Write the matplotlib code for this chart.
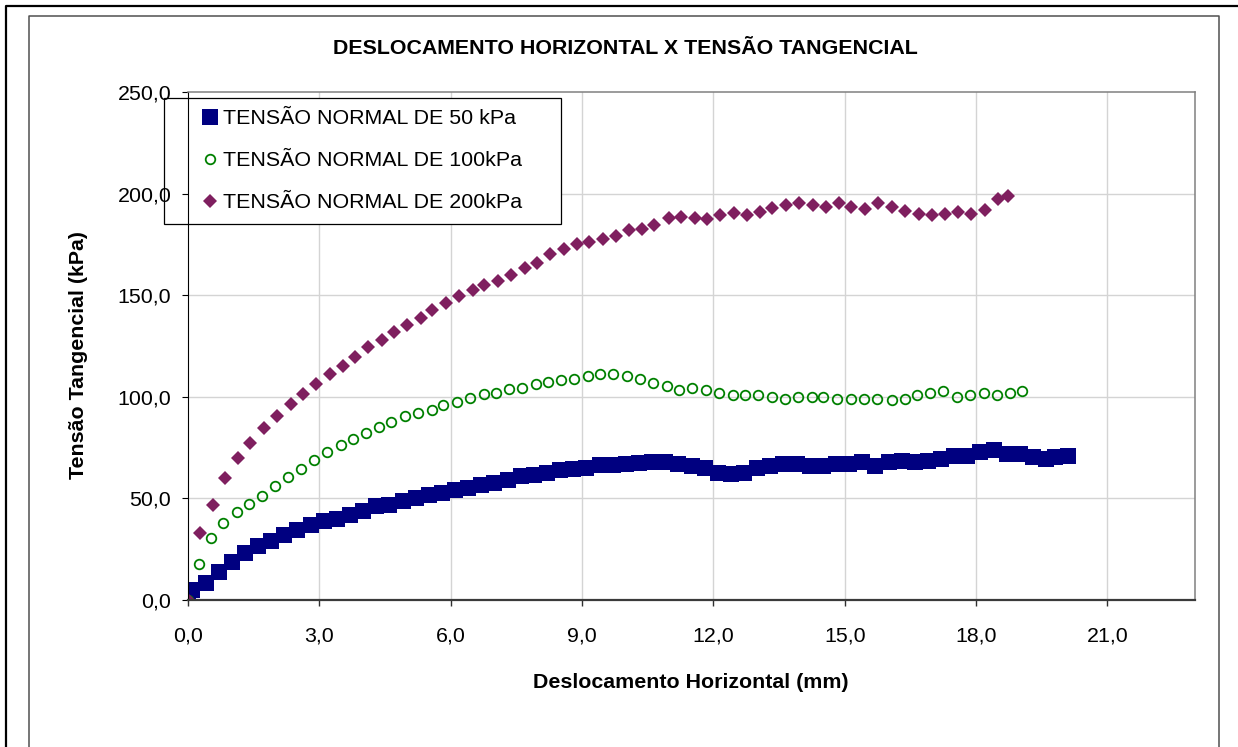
import matplotlib
matplotlib.use("Agg")
import matplotlib.pyplot as plt
from matplotlib.lines import Line2D
from matplotlib.patches import Rectangle

plt.rcParams['font.family'] = ['Liberation Sans', 'DejaVu Sans']

# ---- data -------------------------------------------------------------
desl_50 = [0.0, 0.1, 0.4, 0.7, 1.0, 1.3, 1.6, 1.9, 2.2, 2.5, 2.8, 3.1, 3.4, 3.7,
           4.0, 4.3, 4.6, 4.9, 5.2, 5.5, 5.8, 6.1, 6.4, 6.7, 7.0, 7.3, 7.6, 7.9,
           8.2, 8.5, 8.8, 9.1, 9.4, 9.7, 10.0, 10.3, 10.6, 10.9, 11.2, 11.5,
           11.8, 12.1, 12.4, 12.7, 13.0, 13.3, 13.6, 13.9, 14.2, 14.5, 14.8,
           15.1, 15.4, 15.7, 16.0, 16.3, 16.6, 16.9, 17.2, 17.5, 17.8, 18.1,
           18.4, 18.7, 19.0, 19.3, 19.6, 19.8, 20.1]
tens_50 = [0.0, 4.8, 8.4, 13.6, 18.6, 23.1, 26.7, 29.2, 31.8, 34.3, 37.1, 38.7,
           40.0, 42.0, 43.9, 46.1, 46.6, 48.9, 50.2, 51.8, 52.7, 54.3, 55.1,
           56.7, 57.6, 59.2, 60.9, 61.7, 62.5, 64.1, 64.6, 65.0, 66.3, 66.6,
           66.9, 67.5, 68.0, 68.0, 67.0, 66.0, 65.0, 62.6, 62.1, 62.6, 65.0,
           66.1, 67.0, 67.0, 65.9, 65.9, 67.0, 67.0, 67.9, 65.9, 67.9, 68.6,
           67.9, 68.6, 69.6, 70.8, 70.8, 73.0, 73.6, 71.9, 71.9, 70.3, 69.3,
           70.5, 71.0]

desl_100 = [0.0, 0.26, 0.52, 0.79, 1.11, 1.40, 1.69, 1.99, 2.29, 2.57, 2.88,
            3.18, 3.49, 3.76, 4.07, 4.37, 4.64, 4.95, 5.25, 5.57, 5.83, 6.14,
            6.44, 6.75, 7.03, 7.33, 7.64, 7.94, 8.22, 8.52, 8.82, 9.13, 9.41,
            9.71, 10.02, 10.33, 10.63, 10.93, 11.22, 11.52, 11.83, 12.13,
            12.44, 12.72, 13.02, 13.33, 13.63, 13.94, 14.25, 14.51, 14.83,
            15.14, 15.44, 15.74, 16.07, 16.37, 16.64, 16.95, 17.25, 17.56,
            17.86, 18.17, 18.48, 18.78, 19.06]
tens_100 = [0.0, 17.6, 30.7, 38.0, 43.1, 47.2, 51.3, 56.3, 60.5, 64.6, 68.7,
            72.8, 76.3, 79.4, 82.0, 85.3, 87.8, 90.6, 91.9, 93.5, 96.0, 97.6,
            99.6, 101.3, 102.0, 103.6, 104.5, 106.1, 107.5, 108.5, 109.0,
            110.2, 111.1, 111.1, 110.1, 108.7, 106.9, 105.2, 103.5, 104.2,
            103.5, 101.9, 100.9, 100.9, 100.9, 100.1, 99.1, 100.1, 100.1,
            100.1, 99.1, 99.1, 99.1, 99.1, 98.3, 99.1, 100.7, 101.9, 102.9,
            100.1, 100.7, 101.7, 100.7, 101.9, 102.9]

desl_200 = [0.0, 0.27, 0.58, 0.85, 1.15, 1.42, 1.74, 2.04, 2.35, 2.62, 2.93,
            3.24, 3.53, 3.81, 4.12, 4.42, 4.71, 5.01, 5.32, 5.58, 5.89, 6.20,
            6.50, 6.77, 7.09, 7.38, 7.70, 7.96, 8.27, 8.59, 8.88, 9.17, 9.47,
            9.78, 10.08, 10.36, 10.65, 10.98, 11.27, 11.58, 11.85, 12.16,
            12.47, 12.77, 13.07, 13.35, 13.65, 13.96, 14.27, 14.57, 14.88,
            15.15, 15.46, 15.76, 16.08, 16.38, 16.69, 17.00, 17.30, 17.58,
            17.88, 18.20, 18.49, 18.74]
tens_200 = [0.0, 32.8, 46.8, 59.9, 69.7, 77.4, 84.8, 90.7, 96.5, 101.4, 106.3,
            111.4, 115.3, 119.6, 124.7, 128.0, 132.1, 135.3, 138.6, 142.9,
            146.0, 149.6, 152.6, 155.2, 156.8, 160.1, 163.5, 166.0, 170.1,
            172.7, 175.0, 176.0, 177.5, 179.1, 181.9, 182.5, 184.5, 187.8,
            188.3, 188.2, 187.3, 189.5, 190.4, 189.5, 191.1, 192.7, 194.5,
            195.4, 194.4, 193.4, 195.2, 193.4, 192.3, 195.2, 193.4, 191.6,
            190.1, 189.3, 190.1, 191.1, 190.1, 191.7, 197.5, 198.6]

series_names = ["TENSÃO NORMAL DE 50 kPa", "TENSÃO NORMAL DE 100kPa",
                "TENSÃO NORMAL DE 200kPa"]

x_ticks = [0, 3, 6, 9, 12, 15, 18, 21]
x_tick_labels = ["0,0", "3,0", "6,0", "9,0", "12,0", "15,0", "18,0", "21,0"]
y_ticks = [0, 50, 100, 150, 200, 250]
y_tick_labels = ["0,0", "50,0", "100,0", "150,0", "200,0", "250,0"]

title = "DESLOCAMENTO HORIZONTAL X TENSÃO TANGENCIAL"
x_label = "Deslocamento Horizontal (mm)"
y_label = "Tensão Tangencial (kPa)"

# ---- figure -----------------------------------------------------------
W, H = 1238, 747
FS = 15.4
fig = plt.figure(figsize=(W / 100, H / 100), dpi=100)
fig.patch.set_facecolor("white")


def fx(px):
    return px / W


def fy(py):
    return 1 - py / H


# chart frame lines
fig.add_artist(Line2D([fx(6), fx(6), fx(W)], [0, fy(5.5), fy(5.5)],
                      color="black", lw=1.6, transform=fig.transFigure))
fig.add_artist(Line2D([fx(29), fx(29), fx(1219), fx(1219)],
                      [0, fy(15.5), fy(15.5), 0],
                      color="#505050", lw=1.1, transform=fig.transFigure))

ax = fig.add_axes([fx(188), fy(600), fx(1195) - fx(188), fy(92) - fy(600)])
ax.set_xlim(0, 23)
ax.set_ylim(0, 250)

# gridlines kept underneath everything else
for xt in x_ticks[1:]:
    ax.axvline(xt, color="#d4d4d4", lw=1.0, zorder=0.3)
for yt in y_ticks[1:-1]:
    ax.axhline(yt, color="#d4d4d4", lw=1.0, zorder=0.3)

ax.plot(desl_50, tens_50, linestyle="none", marker="s", markersize=11.3,
        color="#000080", markeredgewidth=0, label=series_names[0], zorder=2)
ax.plot(desl_100, tens_100, linestyle="none", marker="o", markersize=6.9,
        markerfacecolor="none", markeredgecolor="#008000",
        markeredgewidth=1.3, label=series_names[1], zorder=2.1)
ax.plot(desl_200, tens_200, linestyle="none", marker="D", markersize=7.0,
        color="#7f1f5f", markeredgewidth=0, label=series_names[2], zorder=2.2)

ax.set_xticks(x_ticks)
ax.set_xticklabels(x_tick_labels)
ax.set_yticks(y_ticks)
ax.set_yticklabels(y_tick_labels)
ax.tick_params(axis="x", direction="out", length=4, width=1.0,
               color="#303030", pad=15, labelsize=FS)
ax.tick_params(axis="y", direction="out", length=4, width=0.8,
               color="black", pad=8, labelsize=FS)

ax.spines["top"].set_color("#808080")
ax.spines["right"].set_color("#808080")
ax.spines["top"].set_linewidth(1.1)
ax.spines["right"].set_linewidth(1.1)
ax.spines["left"].set_color("black")
ax.spines["left"].set_linewidth(0.8)
ax.spines["bottom"].set_color("#3a3a3a")
ax.spines["bottom"].set_linewidth(1.6)

# legend box (behind the axis line) and entries
ax.add_patch(Rectangle((fx(163.7), fy(223.7)), fx(560.7) - fx(163.7),
                       fy(97.7) - fy(223.7), transform=fig.transFigure,
                       facecolor="white", edgecolor="black", lw=0.9,
                       clip_on=False, zorder=1.0))
leg = ax.legend(loc="upper left", bbox_to_anchor=(fx(199.3), fy(109.5)),
                bbox_transform=fig.transFigure, frameon=False,
                fontsize=FS, borderpad=0, borderaxespad=0,
                handlelength=1.0, handletextpad=0.12, labelspacing=1.07,
                numpoints=1)
leg.set_zorder(3)

fig.text(fx(625), fy(48), title, ha="center", va="center",
         fontsize=FS, fontweight="bold")
fig.text(fx(691), fy(683), x_label, ha="center", va="center",
         fontsize=FS, fontweight="bold")
fig.text(fx(78), fy(355), y_label, ha="center", va="center",
         rotation=90, fontsize=FS, fontweight="bold")

fig.savefig("out.png", dpi=100)
